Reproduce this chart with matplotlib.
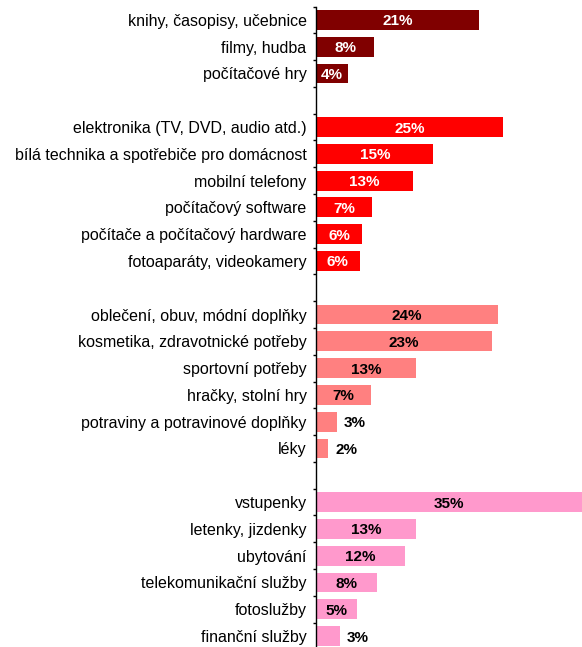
import numpy as np
import matplotlib.pyplot as plt

plt.rcParams['font.family'] = ['Liberation Sans', 'DejaVu Sans']

# groups of categories (top to bottom), a blank row between groups
# values in % (labels show them rounded)
media_labels = ['knihy, časopisy, učebnice', 'filmy, hudba', 'počítačové hry']
media_vals = [21.4, 7.6, 4.2]

elec_labels = ['elektronika (TV, DVD, audio atd.)', 'bílá technika a spotřebiče pro domácnost',
               'mobilní telefony', 'počítačový software', 'počítače a počítačový hardware',
               'fotoaparáty, videokamery']
elec_vals = [24.6, 15.4, 12.7, 7.4, 6.0, 5.7]

goods_labels = ['oblečení, obuv, módní doplňky', 'kosmetika, zdravotnické potřeby',
                'sportovní potřeby', 'hračky, stolní hry', 'potraviny a potravinové doplňky', 'léky']
goods_vals = [23.9, 23.1, 13.1, 7.2, 2.7, 1.6]

serv_labels = ['vstupenky', 'letenky, jizdenky', 'ubytování', 'telekomunikační služby',
               'fotoslužby', 'finanční služby']
serv_vals = [35.0, 13.1, 11.7, 8.0, 5.4, 3.1]

groups = [
    (media_labels, media_vals, '#800000', 'white'),
    (elec_labels, elec_vals, '#ff0000', 'white'),
    (goods_labels, goods_vals, '#ff8080', 'black'),
    (serv_labels, serv_vals, '#ff99cc', 'black'),
]

labels, vals, cols, tcols = [], [], [], []
for i, (lb, vl, c, tc) in enumerate(groups):
    if i > 0:
        labels.append('')
        vals.append(np.nan)
        cols.append('white')
        tcols.append('black')
    labels += lb
    vals += vl
    cols += [c] * len(lb)
    tcols += [tc] * len(lb)

n = len(labels)
y = np.arange(n)

fig = plt.figure(figsize=(5.82, 6.47), dpi=100)
ax = fig.add_axes([316.3 / 582, -2.4 / 647, 1 - 316.3 / 582, (649.4 - 6.5) / 647])

v = np.nan_to_num(np.array(vals, dtype=float))
ax.barh(y, v, height=0.74, color=cols, edgecolor='none')
ax.set_ylim(n - 0.5, -0.5)
ax.set_xlim(0, 35)

ax.set_yticks(y)
ax.set_yticklabels(labels, fontsize=11.5)
ax.tick_params(axis='y', which='major', length=0, pad=7)
ax.set_yticks(np.arange(n + 1) - 0.5, minor=True)
ax.tick_params(axis='y', which='minor', length=2.5, width=1, direction='out')
ax.set_xticks([])

for s in ['top', 'right', 'bottom']:
    ax.spines[s].set_visible(False)
ax.spines['left'].set_linewidth(1)

for yi, val, tc in zip(y, vals, tcols):
    if np.isnan(val):
        continue
    txt = f'{val:.0f}%'
    if val <= 3.2:
        ax.annotate(txt, (val, yi), xytext=(5, 0), textcoords='offset points',
                    ha='left', va='center_baseline', fontsize=11, fontweight='bold', color='black')
    else:
        ax.text(val / 2, yi, txt, ha='center', va='center_baseline',
                fontsize=11, fontweight='bold', color=tc)

fig.savefig('out.png', dpi=100)
